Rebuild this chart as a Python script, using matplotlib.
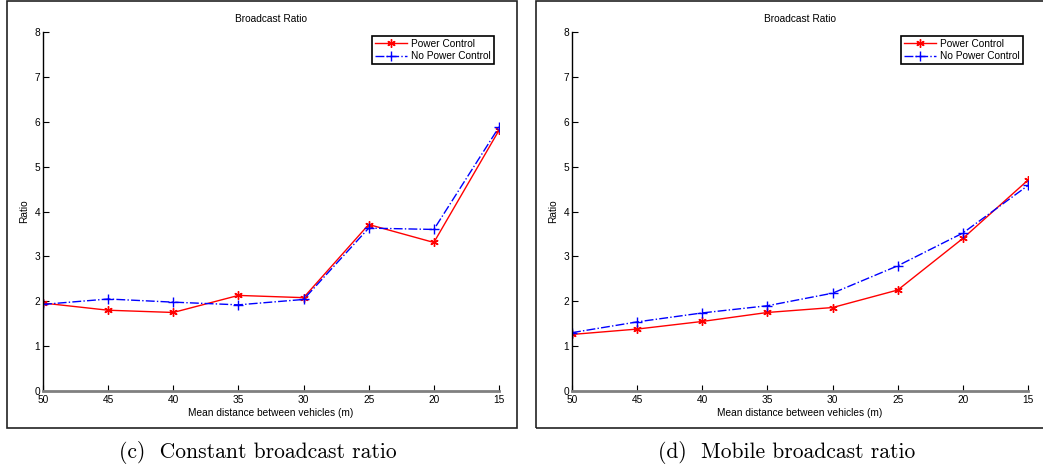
import matplotlib
matplotlib.use("Agg")
import matplotlib.pyplot as plt
from matplotlib.patches import Rectangle

distances = [50, 45, 40, 35, 30, 25, 20, 15]
y_ticks = [0, 1, 2, 3, 4, 5, 6, 7, 8]

const_power = [1.96, 1.80, 1.75, 2.13, 2.08, 3.71, 3.31, 5.81]
const_nopower = [1.93, 2.05, 1.98, 1.92, 2.04, 3.63, 3.60, 5.88]

mobile_power = [1.26, 1.38, 1.55, 1.75, 1.86, 2.25, 3.40, 4.70]
mobile_nopower = [1.30, 1.54, 1.74, 1.90, 2.18, 2.79, 3.52, 4.58]

captions = ["(c)  Constant broadcast ratio", "(d)  Mobile broadcast ratio"]
title = "Broadcast Ratio"
xlabel = "Mean distance between vehicles (m)"
ylabel = "Ratio"
labels = ["Power Control", "No Power Control"]

W, H = 1043, 470
plt.rcParams['font.family'] = ['Liberation Sans', 'DejaVu Sans']
fig = plt.figure(figsize=(W / 100, H / 100), dpi=100)


def fx(px):
    return px / W


def fy(py):
    return 1 - py / H


panels = [
    dict(ax_x=43, border=(7, 517), legend_right=494, caption_x=258, data=(const_power, const_nopower)),
    dict(ax_x=572, border=(536, 1046), legend_right=1023, caption_x=787, data=(mobile_power, mobile_nopower)),
]

ax_w = 456
ax_top, ax_bot = 32, 391
fs = 7.3
asterisk = (6, 2, 0)

for i, p in enumerate(panels):
    bx0, bx1 = p['border']
    fig.patches.append(Rectangle((fx(bx0), fy(428)), fx(bx1 - bx0), (428 - 0.5) / H,
                                 transform=fig.transFigure, fill=False,
                                 edgecolor='#222222', linewidth=1.2))
    ax = fig.add_axes([fx(p['ax_x']), fy(ax_bot), fx(ax_w), (ax_bot - ax_top) / H])
    pc, npc = p['data']
    ax.plot(distances, pc, color='#ff0000', linestyle='-', marker=asterisk,
            markersize=6, markeredgewidth=1.0, linewidth=1.0, label=labels[0])
    ax.plot(distances, npc, color='#0000ff', linestyle='-.', marker='+',
            markersize=7, markeredgewidth=1.0, linewidth=1.0, label=labels[1])
    ax.set_xlim(50, 15)
    ax.set_ylim(0, 8)
    ax.set_xticks(distances)
    ax.set_yticks(y_ticks)
    ax.tick_params(direction='in', length=4, width=0.8, labelsize=fs, pad=2)
    ax.tick_params(axis='x', pad=3)
    for s in ['top', 'right']:
        ax.spines[s].set_visible(False)
    ax.spines['left'].set_color('black')
    ax.spines['left'].set_linewidth(1.0)
    ax.spines['bottom'].set_color('#808080')
    ax.spines['bottom'].set_linewidth(2.0)
    ax.set_title(title, fontsize=fs, pad=7)
    ax.set_xlabel(xlabel, fontsize=fs, labelpad=2)
    ax.set_ylabel(ylabel, fontsize=fs, labelpad=4)
    leg = ax.legend(loc='upper right',
                    bbox_to_anchor=(fx(p['legend_right']), fy(36)),
                    bbox_transform=fig.transFigure,
                    fontsize=fs, fancybox=False, framealpha=1,
                    edgecolor='black', handlelength=3.2, handletextpad=0.4,
                    borderpad=0.3, labelspacing=0.2, borderaxespad=0)
    leg.get_frame().set_linewidth(1.2)
    fig.text(fx(p['caption_x']), fy(452), captions[i], family='cmr10',
             fontsize=15.5, ha='center', va='center')

fig.savefig('out.png', dpi=100)
